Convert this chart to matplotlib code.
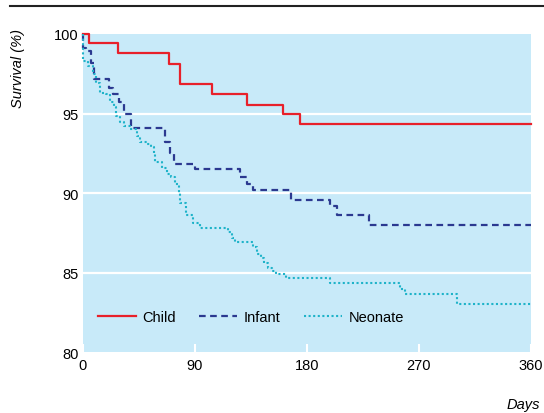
import matplotlib
matplotlib.use("Agg")
import matplotlib.pyplot as plt
from matplotlib import font_manager

# survival curves (Kaplan-Meier style steps), days vs percent surviving
child_days = [0, 5, 28, 69, 78, 104, 132, 161, 175, 360]
child_surv = [100, 99.45, 98.8, 98.1, 96.85, 96.2, 95.55, 94.95, 94.35, 94.35]

infant_days = [0, 0.5, 3, 7, 9, 21, 24, 29, 33, 39, 66, 70, 73, 90, 126, 132,
               137, 167, 199, 204, 230, 360]
infant_surv = [100, 99.1, 98.9, 98.2, 97.2, 96.6, 96.2, 95.7, 95.0, 94.1, 93.2,
               92.5, 91.85, 91.5, 91.0, 90.6, 90.2, 89.6, 89.2, 88.6, 88.0, 88.0]

neonate_days = [0, 0.3, 4, 8, 11, 14, 19, 22, 25, 27, 30, 33, 38, 44, 46, 52,
                55, 57, 58, 64, 68, 71, 74, 77, 78, 83, 89, 94, 117, 120, 122,
                137, 140, 143, 146, 149, 152, 155, 163, 199, 255, 259, 301, 360]
neonate_surv = [100, 98.3, 98.0, 97.5, 96.95, 96.3, 96.2, 95.7, 95.4, 94.85,
                94.5, 94.2, 94.0, 93.6, 93.2, 93.1, 92.9, 92.55, 91.95, 91.6,
                91.2, 91.0, 90.6, 90.0, 89.4, 88.6, 88.15, 87.8, 87.55, 87.2,
                86.9, 86.6, 86.2, 85.9, 85.6, 85.3, 85.1, 84.9, 84.65, 84.35,
                83.95, 83.65, 83.05, 83.05]

x_ticks = [0, 90, 180, 270, 360]
y_ticks = [80, 85, 90, 95, 100]

names = {f.name for f in font_manager.fontManager.ttflist}
family = "Liberation Sans Narrow" if "Liberation Sans Narrow" in names else "Liberation Sans"
plt.rcParams["font.family"] = [family, "DejaVu Sans"]

fig = plt.figure(figsize=(5.44, 4.14), dpi=100)
ax = fig.add_axes([0.152, 0.1466, 0.8236, 0.7689])
ax.set_facecolor("#c8eaf9")

for y in [85, 90, 95]:
    ax.axhline(y, color="white", lw=1.6, zorder=1)

ax.step(child_days, child_surv, where="post", color="#e8202a", lw=1.6,
        label="Child", zorder=3, clip_on=False)
ax.step(infant_days, infant_surv, where="post", color="#2b3990", lw=1.6,
        linestyle=(0, (3, 2)), label="Infant", zorder=3, clip_on=False)
ax.step(neonate_days, neonate_surv, where="post", color="#1fb3c9", lw=1.5,
        linestyle=(0, (1, 1.2)), label="Neonate", zorder=3, clip_on=False)

ax.set_xlim(0, 360)
ax.set_ylim(80, 100)
ax.set_xticks(x_ticks)
ax.set_yticks(y_ticks)
ax.tick_params(axis="x", direction="in", color="white", length=6, width=1.5,
               labelsize=10.5, pad=4)
ax.tick_params(axis="y", length=0, labelsize=10.5, pad=3)
for s in ax.spines.values():
    s.set_visible(False)

leg = ax.legend(loc="center left", bbox_to_anchor=(0.034, 0.111), ncol=3,
                frameon=False, fontsize=10.5, handlelength=2.6,
                handletextpad=0.45, columnspacing=1.6, borderpad=0,
                borderaxespad=0)

fig.text(0.033, 0.834, "Survival (%)", rotation=90, style="italic",
         fontsize=10.5, ha="center", va="center")
fig.text(0.993, 0.022, "Days", style="italic", fontsize=10.5,
         ha="right", va="center")

fig.add_artist(plt.Line2D([0.018, 1.0], [0.982, 0.982], color="#222222", lw=1.5))

fig.savefig("out.png", dpi=100)
